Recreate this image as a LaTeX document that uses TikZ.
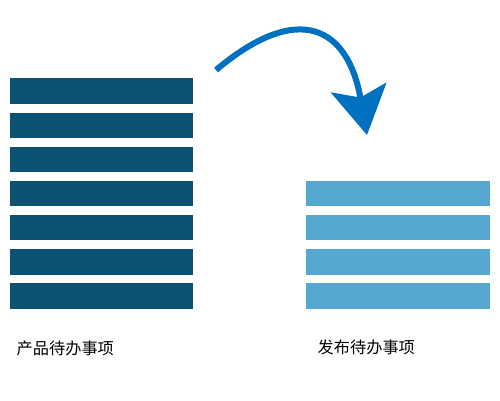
\documentclass[tikz,border=0pt]{standalone}
\usepackage{fontspec}
\newfontfamily\cjk{Noto Sans CJK SC}
\usetikzlibrary{positioning, arrows.meta}
\definecolor{backlogdark}{HTML}{0B5273}
\definecolor{backloglight}{HTML}{55A8D1}
\definecolor{arrowblue}{HTML}{0070C0}

\begin{document}
\begin{tikzpicture}[x=1pt, y=1pt,
    bar/.style={minimum width=183.5pt, minimum height=25.4pt, inner sep=0pt, outer sep=0pt},
    label/.style={font=\cjk\fontsize{16.2}{19}\selectfont, inner sep=0pt, anchor=west}]
    \useasboundingbox (0, 0) rectangle (500, 400);

    % product backlog (left)
    \foreach \n [count=\i] in {0, ..., 6} % count starts from 1
        \node[bar, fill=backlogdark] (L\i) at (101.7, {308.9 - 34.17*\n}) {};
    % release backlog (right)
    \foreach \n [count=\i] in {3, ..., 6}
        \node[bar, fill=backloglight] (R\i) at (398, {308.9 - 34.17*\n}) {};

    % labels
    \node[label] (pb) at (16.5, 52) {产品待办事项};
    \node[label] (rb) at (317.5, 53) {发布待办事项};

    % arrow
    \coordinate (from) at (216, 330);
    \coordinate (to) at (367, 265);
    \draw[arrowblue, line width=6pt, -{Stealth[length=48pt, width=56pt, inset=10pt]}]
        (from) to[out=40, in=100, looseness=1.7] (to);
\end{tikzpicture}
\end{document}
